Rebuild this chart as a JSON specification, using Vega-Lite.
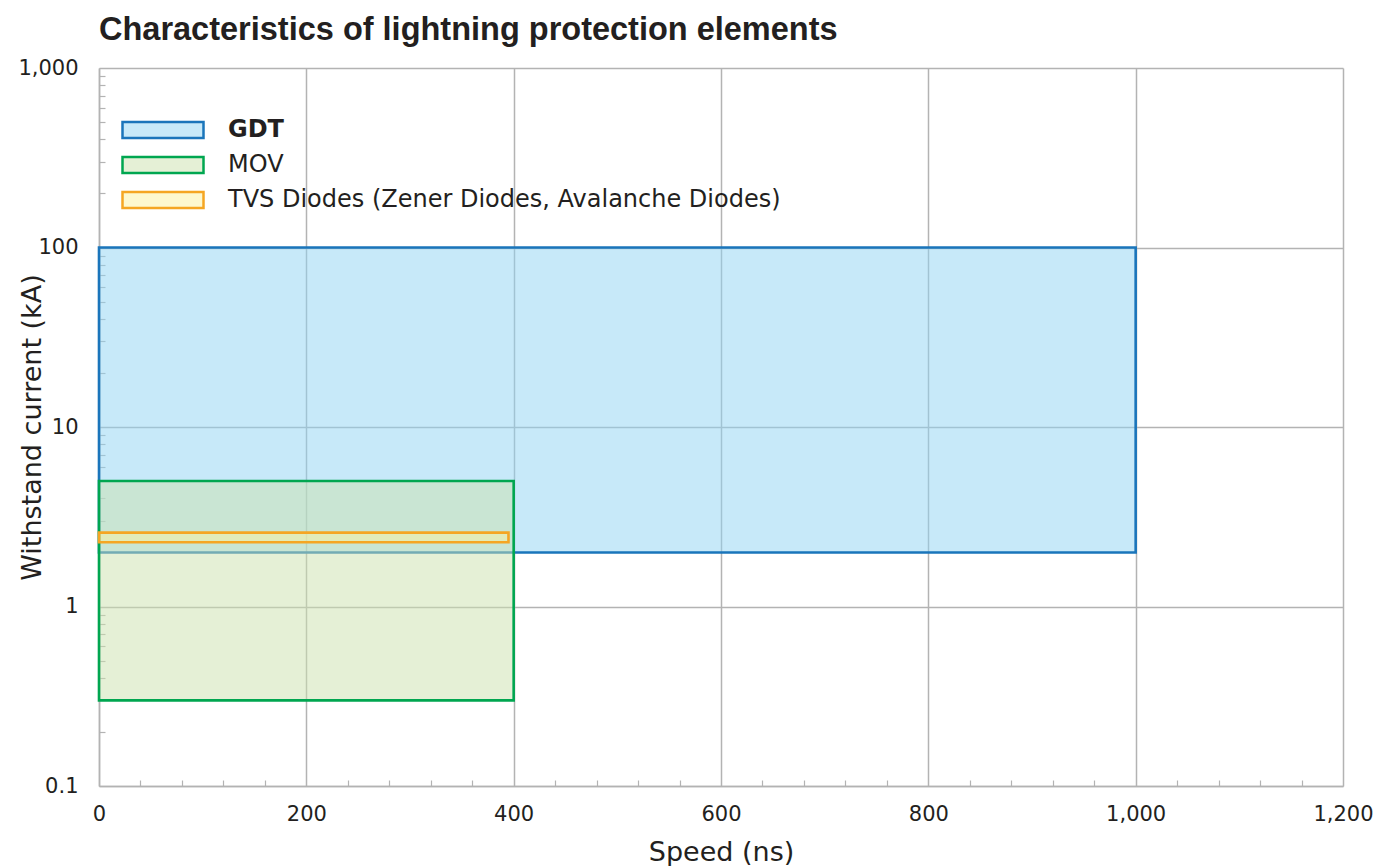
{
  "$schema": "https://vega.github.io/schema/vega-lite/v6.json",
  "autosize": {"type": "none"},
  "width": 1244,
  "height": 718,
  "padding": {"left": 99, "top": 68, "right": 36, "bottom": 80},
  "background": "white",
  "title": {
    "text": "Characteristics of lightning protection elements",
    "anchor": "start",
    "frame": "group",
    "font": "Liberation Sans",
    "fontSize": 32.5,
    "fontWeight": "bold",
    "color": "#231f20",
    "baseline": "alphabetic",
    "offset": -15
  },
  "config": {"view": {"stroke": null}},
  "data": {
    "values": [
      {"type": "GDT", "x0": 0, "x1": 1000, "y0": 2, "y1": 100},
      {"type": "MOV", "x0": 0, "x1": 400, "y0": 0.3, "y1": 5},
      {"type": "TVS Diodes (Zener Diodes, Avalanche Diodes)", "x0": 0, "x1": 395, "y0": 2.28, "y1": 2.58}
    ]
  },
  "mark": {"type": "rect", "fillOpacity": 0.5, "strokeWidth": 2.6},
  "encoding": {
    "x": {
      "field": "x0",
      "type": "quantitative",
      "scale": {"domain": [0, 1200], "nice": false, "zero": false},
      "axis": {
        "title": "Speed (ns)",
        "values": [0, 40, 80, 120, 160, 200, 240, 280, 320, 360, 400, 440, 480, 520, 560, 600, 640, 680, 720, 760, 800, 840, 880, 920, 960, 1000, 1040, 1080, 1120, 1160, 1200],
        "grid": true,
        "gridColor": "#b3b3b3",
        "gridWidth": 1.5,
        "gridOpacity": {"condition": {"test": "datum.value % 200 === 0", "value": 1}, "value": 0},
        "ticks": true,
        "tickSize": -6,
        "tickColor": "#b3b3b3",
        "tickWidth": 1.2,
        "tickOpacity": {"condition": {"test": "datum.value % 200 === 0", "value": 0}, "value": 1},
        "labelExpr": "datum.value % 200 === 0 ? format(datum.value, ',') : ''",
        "labelOverlap": false,
        "labelFlush": false,
        "labelFont": "DejaVu Sans",
        "labelFontSize": 21,
        "labelColor": "#231f20",
        "labelPadding": 23,
        "domainColor": "#b3b3b3",
        "domainWidth": 1.5,
        "titleFont": "DejaVu Sans",
        "titleFontSize": 27,
        "titleFontWeight": "normal",
        "titleColor": "#231f20",
        "titlePadding": 15
      }
    },
    "x2": {"field": "x1"},
    "y": {
      "field": "y0",
      "type": "quantitative",
      "scale": {"type": "log", "domain": [0.1, 1000], "nice": false},
      "axis": {
        "title": "Withstand current (kA)",
        "values": [0.1, 0.2, 0.3, 0.4, 0.5, 0.6, 0.7, 0.8, 0.9, 1, 2, 3, 4, 5, 6, 7, 8, 9, 10, 20, 30, 40, 50, 60, 70, 80, 90, 100, 200, 300, 400, 500, 600, 700, 800, 900, 1000],
        "grid": true,
        "gridColor": "#b3b3b3",
        "gridWidth": 1.5,
        "gridOpacity": {"condition": {"test": "abs(log(datum.value)/LN10 - round(log(datum.value)/LN10)) < 0.001", "value": 1}, "value": 0},
        "ticks": true,
        "tickSize": -6,
        "tickColor": "#b3b3b3",
        "tickWidth": 1.2,
        "tickOpacity": {"condition": {"test": "abs(log(datum.value)/LN10 - round(log(datum.value)/LN10)) < 0.001", "value": 0}, "value": 1},
        "labelExpr": "abs(log(datum.value)/LN10 - round(log(datum.value)/LN10)) < 0.001 ? format(datum.value, ',') : ''",
        "labelOverlap": false,
        "labelFlush": false,
        "labelFont": "DejaVu Sans",
        "labelFontSize": 21,
        "labelColor": "#231f20",
        "labelPadding": 27,
        "domainColor": "#b3b3b3",
        "domainWidth": 1.5,
        "titleFont": "DejaVu Sans",
        "titleFontSize": 27,
        "titleFontWeight": "normal",
        "titleColor": "#231f20",
        "titlePadding": -29
      }
    },
    "y2": {"field": "y1"},
    "fill": {
      "field": "type",
      "type": "nominal",
      "scale": {
        "domain": ["GDT", "MOV", "TVS Diodes (Zener Diodes, Avalanche Diodes)"],
        "range": ["#8fd3f3", "#cbe1ad", "#fbf19f"]
      },
      "legend": {
        "title": null,
        "orient": "none",
        "legendX": 52,
        "legendY": 50,
        "padding": 0,
        "symbolType": "M-8.1,-1.6H8.1V1.6H-8.1Z",
        "symbolSize": 100,
        "symbolStrokeWidth": 2.5,
        "labelFont": "DejaVu Sans",
        "labelFontSize": 24,
        "labelColor": "#231f20",
        "labelOffset": 53,
        "labelLimit": 0,
        "rowPadding": 9,
        "encode": {
          "symbols": {"update": {"fillOpacity": {"value": 0.5}}},
          "labels": {"update": {"fontWeight": {"signal": "datum.label === 'GDT' ? 'bold' : 'normal'"}}}
        }
      }
    },
    "stroke": {
      "field": "type",
      "type": "nominal",
      "scale": {
        "domain": ["GDT", "MOV", "TVS Diodes (Zener Diodes, Avalanche Diodes)"],
        "range": ["#1a75bb", "#00a650", "#f5a623"]
      },
      "legend": {
        "title": null,
        "orient": "none",
        "legendX": 52,
        "legendY": 50,
        "padding": 0,
        "symbolType": "M-8.1,-1.6H8.1V1.6H-8.1Z",
        "symbolSize": 100,
        "symbolStrokeWidth": 2.5,
        "labelFont": "DejaVu Sans",
        "labelFontSize": 24,
        "labelColor": "#231f20",
        "labelOffset": 53,
        "labelLimit": 0,
        "rowPadding": 9,
        "encode": {
          "symbols": {"update": {"fillOpacity": {"value": 0.5}}},
          "labels": {"update": {"fontWeight": {"signal": "datum.label === 'GDT' ? 'bold' : 'normal'"}}}
        }
      }
    }
  }
}
